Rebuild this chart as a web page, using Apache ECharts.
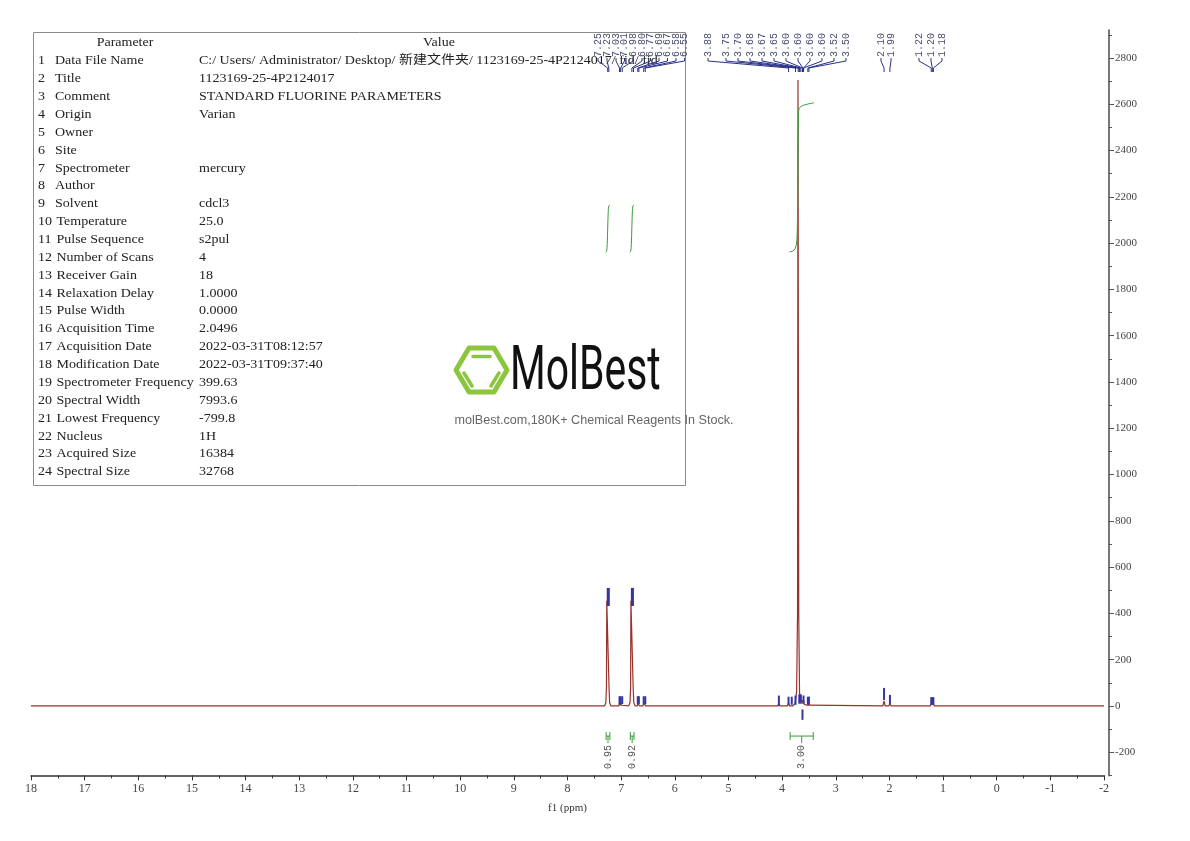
<!DOCTYPE html>
<html><head><meta charset="utf-8">
<script src="https://cdn.jsdelivr.net/npm/echarts@6/dist/echarts.min.js"></script>
<style>html,body{margin:0;padding:0;background:#fff}#c{width:1190px;height:841px}</style>
</head><body><div id="c"></div>
<script>
// ---------------- DATA ----------------
const xRange = [-2, 18];
const yRange = [-300, 2920];
const yTickLabels = [-200,0,200,400,600,800,1000,1200,1400,1600,1800,2000,2200,2400,2600,2800];
const yMinorTicks = [-300,-100,100,300,500,700,900,1100,1300,1500,1700,1900,2100,2300,2500,2700,2900];

// spectrum trace [ppm, intensity]
const spectrumPoints = [
  [18,0],[7.31,0],[7.285,15],[7.274,80],[7.268,455],[7.26,462],[7.24,462],[7.232,455],[7.226,80],[7.215,15],[7.19,0],
  [7.045,0],[7.03,12],[7.02,3],[7.01,12],[6.995,3],[6.98,10],[6.965,0],
  [6.86,0],[6.835,15],[6.824,80],[6.818,455],[6.81,462],[6.79,462],[6.782,455],[6.776,80],[6.765,15],[6.74,0],
  [6.70,0],[6.69,10],[6.68,3],[6.67,10],[6.655,0],[6.595,0],[6.58,10],[6.565,3],[6.55,10],[6.535,0],
  [4.08,0],[4.06,12],[4.04,0],[3.90,0],[3.88,12],[3.86,0],
  [3.80,0],[3.76,10],[3.73,60],[3.712,400],[3.704,2705],[3.698,2705],[3.69,400],[3.675,60],[3.66,20],
  [3.64,12],[3.62,25],[3.61,10],[3.60,22],[3.59,8],[3.55,4],[3.52,12],[3.51,4],[3.50,12],[3.48,0],
  [2.12,0],[2.10,22],[2.08,0],[2.01,0],[1.99,12],[1.97,0],
  [1.24,0],[1.22,10],[1.21,4],[1.20,14],[1.19,4],[1.18,10],[1.16,0],[-2,0]
];

// integral curves [ppm, value]
const integralCurve1 = [[7.29,1960],[7.27,1966],[7.26,1995],[7.25,2070],[7.24,2140],[7.23,2160],[7.21,2165]];
const integralCurve2 = [[6.84,1960],[6.82,1966],[6.81,1995],[6.80,2070],[6.79,2140],[6.78,2160],[6.76,2165]];
const integralCurve3 = [[3.86,1962],[3.80,1966],[3.76,1975],[3.73,2000],[3.715,2080],[3.705,2250],[3.70,2420],
  [3.695,2550],[3.69,2575],[3.67,2586],[3.63,2593],[3.57,2598],[3.50,2602],[3.41,2606]];

// integration regions
const integralFrom  = [7.28, 6.83, 3.85];
const integralTo    = [7.21, 6.76, 3.42];
const integralValue = ['0.95', '0.92', '3.00'];

// peak-pick markers [ppm, low, high]
const peakMarkers = [
  [7.25,432,510],[7.23,432,510],[6.80,432,510],[6.78,432,510],
  [7.03,8,42],[7.01,8,42],[6.98,8,42],[6.69,8,42],[6.67,8,42],[6.58,8,42],[6.55,8,42],
  [4.06,0,45],[3.88,5,40],[3.82,5,40],[3.75,5,45],[3.68,10,50],[3.65,10,50],[3.60,10,45],[3.52,5,40],[3.50,5,40],
  [3.62,-60,-15],
  [2.10,26,78],[1.99,9,48],[1.22,5,38],[1.20,5,38],[1.18,5,38]
];

// peak labels (text) and the ppm they point to
const peakLabelText = ['7.25','7.23','7.03','7.01','6.98','6.80','6.77','6.69','6.67','6.58','6.55',
  '3.88','3.75','3.70','3.68','3.67','3.65','3.60','3.60','3.60','3.60','3.52','3.50',
  '2.10','1.99','1.22','1.20','1.18'];
const peakLabelPpm = [7.25,7.23,7.03,7.01,6.98,6.80,6.77,6.69,6.67,6.58,6.55,
  3.88,3.75,3.70,3.68,3.67,3.65,3.62,3.61,3.60,3.60,3.52,3.50,
  2.10,1.99,1.22,1.20,1.18];

// parameter table
const paramNames = ['Data File Name','Title','Comment','Origin','Owner','Site','Spectrometer','Author','Solvent',
  'Temperature','Pulse Sequence','Number of Scans','Receiver Gain','Relaxation Delay','Pulse Width','Acquisition Time',
  'Acquisition Date','Modification Date','Spectrometer Frequency','Spectral Width','Lowest Frequency','Nucleus',
  'Acquired Size','Spectral Size'];
const paramValues = ['C:/ Users/ Administrator/ Desktop/ 新建文件夹/ 1123169-25-4P2124017/ fid/ fid','1123169-25-4P2124017',
  'STANDARD FLUORINE PARAMETERS','Varian','','','mercury','','cdcl3','25.0','s2pul','4','18','1.0000','0.0000','2.0496',
  '2022-03-31T08:12:57','2022-03-31T09:37:40','399.63','7993.6','-799.8','1H','16384','32768'];

// ---------------- LAYOUT (pixels) ----------------
const labelSlotX = [598,607,616,624.5,633,642,650.5,659,667.5,676,684.5,
  708,726,738,750,762,774,786,798,810,822,834,846,
  881,891,919,931,942];
const serif = "'Liberation Serif','DejaVu Serif','Noto Sans CJK SC',serif";
const mono = "'Liberation Mono','Noto Sans CJK SC',monospace";

const chart = echarts.init(document.getElementById('c'), null, {renderer:'canvas'});

const g = [];
g.push({type:'rect', shape:{x:33.5,y:32.5,width:652,height:453}, style:{fill:'none',stroke:'#8a8a8a',lineWidth:1}, z:1});
function txt(x,y,t,opt){
  opt = opt||{};
  return {type:'text', x:x, y:y, z:2, scaleX:opt.scaleX||1.12, style:{text:t, font:opt.font||('12.5px '+serif), fill:opt.fill||'#222',
    align:opt.align||'left', textAlign:opt.align||'left', verticalAlign:'middle', textVerticalAlign:'middle'}};
}
g.push(txt(125,43,'Parameter',{align:'center'}));
g.push(txt(439,43,'Value',{align:'center'}));
for (let i=0;i<paramNames.length;i++){
  const y = 61 + i*17.87;
  g.push(txt(38,y,String(i+1)));
  g.push(txt(i+1<10?55:56.5,y,paramNames[i]));
  g.push(txt(199,y,paramValues[i]));
}
// logo
const green = '#8cc63f';
g.push({type:'polygon', z:3, shape:{points:[[456,370],[469,348],[494,348],[507,370],[494,392],[469,392]]},
  style:{fill:'none',stroke:green,lineWidth:5,lineJoin:'round'}});
g.push({type:'line', z:3, shape:{x1:473,y1:356.5,x2:490,y2:356.5}, style:{stroke:green,lineWidth:3.5,lineCap:'round'}});
g.push({type:'line', z:3, shape:{x1:464,y1:373,x2:472,y2:386}, style:{stroke:green,lineWidth:3.5,lineCap:'round'}});
g.push({type:'line', z:3, shape:{x1:499,y1:373,x2:491,y2:386}, style:{stroke:green,lineWidth:3.5,lineCap:'round'}});
g.push({type:'text', x:510, y:373, z:3, scaleX:0.66, style:{text:'MolBest', font:"62px Roboto, 'DejaVu Sans'", fill:'#111',
  align:'left', textAlign:'left', verticalAlign:'middle', textVerticalAlign:'middle'}});
g.push(txt(594,421,'molBest.com,180K+ Chemical Reagents In Stock.',{align:'center', scaleX:1, font:"12.6px 'Liberation Sans', Arial, sans-serif", fill:'#666'}));

const lineColor = '#98322c';
const intColor = '#3a9a3a';
const markColor = '#3636a0';

const option = {
  animation:false,
  backgroundColor:'#fff',
  grid:{left:31, right:86, top:30.2, bottom:65.6, containLabel:false},
  xAxis:{type:'value', inverse:true, min:xRange[0], max:xRange[1], interval:1,
    name:'f1 (ppm)', nameLocation:'middle', nameGap:27, nameTextStyle:{fontFamily:serif,fontSize:11,color:'#333'},
    axisLine:{onZero:false, lineStyle:{color:'#333',width:1.5}},
    axisTick:{length:5, lineStyle:{color:'#333'}},
    minorTick:{show:true, splitNumber:2, length:3, lineStyle:{color:'#333'}},
    axisLabel:{fontFamily:serif, fontSize:12, color:'#444', margin:7, formatter:v=>String(v)},
    splitLine:{show:false}},
  yAxis:[
    {type:'value', position:'right', offset:5, min:yRange[0], max:yRange[1],
     axisLine:{show:true, onZero:false, lineStyle:{color:'#777',width:2}},
     axisTick:{show:true, customValues:yTickLabels, length:5, lineStyle:{color:'#555'}},
     axisLabel:{show:true, customValues:yTickLabels, fontFamily:serif, fontSize:11, color:'#444', margin:6, formatter:v=>String(v)},
     splitLine:{show:false}},
    {type:'value', position:'right', offset:5, min:yRange[0], max:yRange[1],
     axisLine:{show:false, onZero:false},
     axisTick:{show:true, customValues:yMinorTicks, length:3, lineStyle:{color:'#555'}},
     axisLabel:{show:false}, splitLine:{show:false}}
  ],
  series:[
    {type:'line', data:spectrumPoints, showSymbol:false, symbol:'none', lineStyle:{color:lineColor,width:1.2}, z:3},
    {type:'line', data:integralCurve1, showSymbol:false, symbol:'none', smooth:0.3, lineStyle:{color:intColor,width:1}, z:4},
    {type:'line', data:integralCurve2, showSymbol:false, symbol:'none', smooth:0.3, lineStyle:{color:intColor,width:1}, z:4},
    {type:'line', data:integralCurve3, showSymbol:false, symbol:'none', smooth:0.3, lineStyle:{color:intColor,width:1}, z:4},
    {type:'custom', z:5, clip:false, data:peakMarkers,
     renderItem:function(params, api){
       const a = api.coord([api.value(0), api.value(1)]);
       const b = api.coord([api.value(0), api.value(2)]);
       return {type:'rect', shape:{x:a[0]-1, y:b[1], width:2, height:a[1]-b[1]}, style:{fill:markColor}};
     }},
    {type:'custom', z:6, clip:false, data:peakLabelPpm.map((p,i)=>[p,i]),
     renderItem:function(params, api){
       const i = api.value(1);
       const px = api.coord([api.value(0), 0])[0];
       const sx = labelSlotX[i];
       return {type:'group', children:[
         {type:'text', x:sx, y:57, rotation:Math.PI/2,
          style:{text:peakLabelText[i], font:'10px '+mono, fill:'#4a4f70', align:'left', textAlign:'left',
                 verticalAlign:'middle', textVerticalAlign:'middle'}},
         {type:'polyline', shape:{points:[[sx,58],[sx,61],[px,68],[px,72]]}, style:{fill:'none', stroke:'#28308a', lineWidth:1}}
       ]};
     }},
    {type:'custom', z:6, clip:false, data:integralFrom.map((f,i)=>[f, integralTo[i], i]),
     renderItem:function(params, api){
       const i = api.value(2);
       const a = api.coord([api.value(0), -130]);
       const b = api.coord([api.value(1), -130]);
       const y = a[1];
       const xc = (a[0]+b[0])/2;
       return {type:'group', children:[
         {type:'line', shape:{x1:a[0],y1:y,x2:b[0],y2:y}, style:{stroke:intColor,lineWidth:1}},
         {type:'line', shape:{x1:a[0],y1:y-4,x2:a[0],y2:y+4}, style:{stroke:intColor,lineWidth:1}},
         {type:'line', shape:{x1:b[0],y1:y-4,x2:b[0],y2:y+4}, style:{stroke:intColor,lineWidth:1}},
         {type:'line', shape:{x1:xc,y1:y,x2:xc,y2:y+7}, style:{stroke:intColor,lineWidth:1}},
         {type:'text', x:xc, y:y+9, rotation:Math.PI/2,
          style:{text:integralValue[i], font:'10px '+mono, fill:'#555', align:'right', textAlign:'right',
                 verticalAlign:'middle', textVerticalAlign:'middle'}}
       ]};
     }}
  ],
  graphic:g
};
chart.setOption(option);
</script>
</body></html>
